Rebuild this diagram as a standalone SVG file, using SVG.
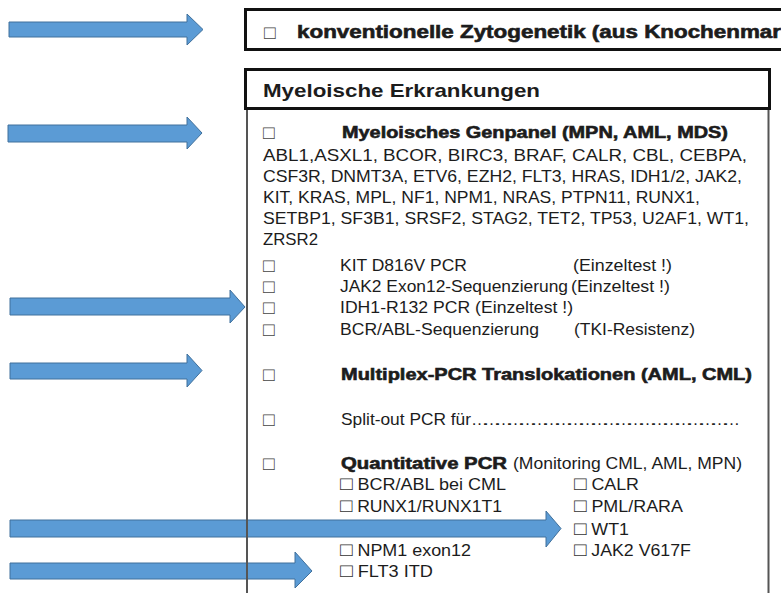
<svg xmlns="http://www.w3.org/2000/svg" width="781" height="593" viewBox="0 0 781 593">
<style>
.arrow{fill:#5b9bd5;stroke:#41719c;stroke-width:1}
.thick{fill:none;stroke:#111;stroke-width:3}
.thin{fill:none;stroke:#555;stroke-width:2}
text{font-family:"Liberation Sans",Arial,sans-serif;fill:#1c1c1c}
.b{font-weight:bold}
.hv{font-weight:bold;stroke:#1c1c1c;stroke-width:0.6}
.r{font-size:17px}
.q{font-size:16.5px}
.cb{font-size:19px;fill:#444}
.cs{font-size:19px;fill:#333}
</style>
<rect width="781" height="593" fill="#fff"/>
<g id="arrows">
<polygon class="arrow" points="9,22 187,22 187,14 203,29.5 187,45 187,37 9,37"/>
<polygon class="arrow" points="8,125 187,125 187,117 202,133 187,149 187,142 8,142"/>
<polygon class="arrow" points="10,298 230,298 230,290 245,307 230,323 230,315 10,315"/>
<polygon class="arrow" points="10,363 187,363 187,354 202,370.5 187,387 187,379 10,379"/>
<polygon class="arrow" points="10,520 546,520 546,511 561,528.5 546,547 546,537 10,537"/>
<polygon class="arrow" points="10,563 295,563 295,552 312,571 295,588 295,579 10,579"/>
</g>
<g id="box-zytogenetik">
<rect class="thick" x="245.5" y="9.5" width="545" height="40"/>
<text class="cb" x="264" y="38.5">□</text>
<text class="hv" x="297" y="38" font-size="18" textLength="484" lengthAdjust="spacingAndGlyphs">konventionelle Zytogenetik (aus Knochenmar</text>
</g>
<g id="box-myeloisch">
<polyline class="thin" points="247,108 247,600"/>
<polyline class="thin" points="768.5,108 768.5,600"/>
<rect class="thick" x="245.5" y="69.5" width="524" height="39"/>
<text class="b" x="263" y="97" font-size="19" textLength="277" lengthAdjust="spacingAndGlyphs">Myeloische Erkrankungen</text>
</g>
<g id="genpanel">
<text class="cb" x="263" y="138.5">□</text>
<text class="hv" x="342" y="138" font-size="16.5" textLength="386" lengthAdjust="spacingAndGlyphs">Myeloisches Genpanel (MPN, AML, MDS)</text>
<text class="r" x="263" y="161" textLength="484" lengthAdjust="spacingAndGlyphs">ABL1,ASXL1, BCOR, BIRC3, BRAF, CALR, CBL, CEBPA,</text>
<text class="r" x="263" y="182" textLength="479" lengthAdjust="spacingAndGlyphs">CSF3R, DNMT3A, ETV6, EZH2, FLT3, HRAS, IDH1/2, JAK2,</text>
<text class="r" x="263" y="203" textLength="437" lengthAdjust="spacingAndGlyphs">KIT, KRAS, MPL, NF1, NPM1, NRAS, PTPN11, RUNX1,</text>
<text class="r" x="263" y="224" textLength="486" lengthAdjust="spacingAndGlyphs">SETBP1, SF3B1, SRSF2, STAG2, TET2, TP53, U2AF1, WT1,</text>
<text class="r" x="263" y="245" textLength="55" lengthAdjust="spacingAndGlyphs">ZRSR2</text>
</g>
<g id="einzeltests">
<text class="cb" x="263" y="271.5">□</text>
<text class="r" x="340" y="271" textLength="127" lengthAdjust="spacingAndGlyphs">KIT D816V PCR</text>
<text class="r" x="573" y="271" textLength="99" lengthAdjust="spacingAndGlyphs">(Einzeltest !)</text>
<text class="cb" x="263" y="292.5">□</text>
<text class="r" x="340" y="292" textLength="228" lengthAdjust="spacingAndGlyphs">JAK2 Exon12-Sequenzierung</text>
<text class="r" x="571" y="292" textLength="99" lengthAdjust="spacingAndGlyphs">(Einzeltest !)</text>
<text class="cb" x="263" y="313.5">□</text>
<text class="r" x="340" y="313" textLength="233" lengthAdjust="spacingAndGlyphs">IDH1-R132 PCR (Einzeltest !)</text>
<text class="cb" x="263" y="335.5">□</text>
<text class="r" x="340" y="335" textLength="199" lengthAdjust="spacingAndGlyphs">BCR/ABL-Sequenzierung</text>
<text class="r" x="574" y="335" textLength="121" lengthAdjust="spacingAndGlyphs">(TKI-Resistenz)</text>
</g>
<g id="multiplex">
<text class="cb" x="263" y="380.5">□</text>
<text class="hv" x="341" y="380" font-size="16.5" textLength="411" lengthAdjust="spacingAndGlyphs">Multiplex-PCR Translokationen (AML, CML)</text>
</g>
<g id="splitout">
<text class="cb" x="263" y="425.5">□</text>
<text class="r" x="341" y="425" textLength="130" lengthAdjust="spacingAndGlyphs">Split-out PCR für</text>
<text class="r" x="471" y="425" textLength="269" lengthAdjust="spacing">…………………………………………………………</text>
</g>
<g id="quantitative">
<text class="cb" x="263" y="469.5">□</text>
<text class="hv" x="341" y="469" font-size="16.5" textLength="166" lengthAdjust="spacingAndGlyphs">Quantitative PCR</text>
<text class="r" x="513" y="469" textLength="229" lengthAdjust="spacingAndGlyphs">(Monitoring CML, AML, MPN)</text>
<text class="q" x="340" y="490" textLength="166" lengthAdjust="spacingAndGlyphs"><tspan class="cs">□</tspan> BCR/ABL bei CML</text>
<text class="q" x="574" y="490" textLength="65" lengthAdjust="spacingAndGlyphs"><tspan class="cs">□</tspan> CALR</text>
<text class="q" x="340" y="512" textLength="162" lengthAdjust="spacingAndGlyphs"><tspan class="cs">□</tspan> RUNX1/RUNX1T1</text>
<text class="q" x="574" y="512" textLength="109" lengthAdjust="spacingAndGlyphs"><tspan class="cs">□</tspan> PML/RARA</text>
<text class="q" x="574" y="535" textLength="55" lengthAdjust="spacingAndGlyphs"><tspan class="cs">□</tspan> WT1</text>
<text class="q" x="340" y="556" textLength="131" lengthAdjust="spacingAndGlyphs"><tspan class="cs">□</tspan> NPM1 exon12</text>
<text class="q" x="574" y="556" textLength="117" lengthAdjust="spacingAndGlyphs"><tspan class="cs">□</tspan> JAK2 V617F</text>
<text class="q" x="340" y="577" textLength="93" lengthAdjust="spacingAndGlyphs"><tspan class="cs">□</tspan> FLT3 ITD</text>
</g>
</svg>
